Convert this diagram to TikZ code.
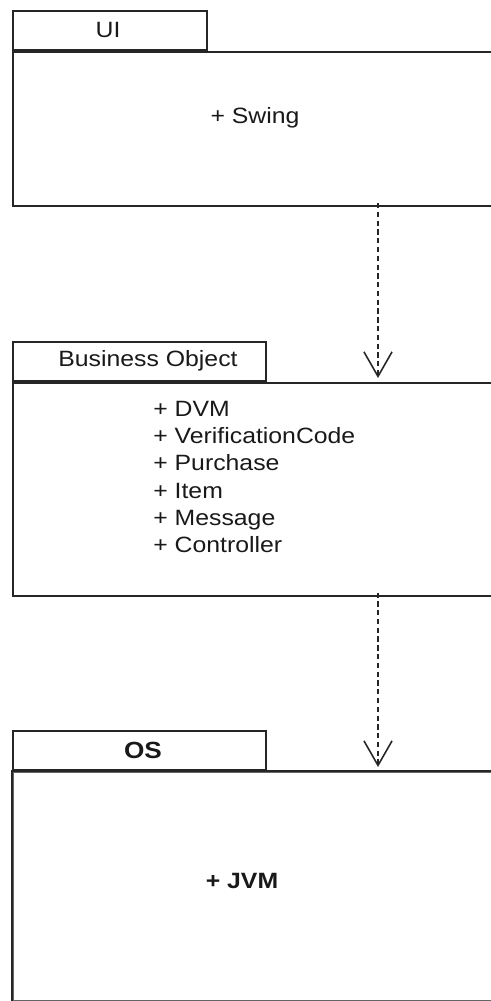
\documentclass[tikz,border=0pt]{standalone}
\usepackage{fontspec}
\setmainfont{Liberation Sans}[FakeStretch=1.12]
\usetikzlibrary{arrows.meta}

\begin{document}
\begin{tikzpicture}
      \tikzstyle{tabnode} = [draw=black!85, line width=1pt, rectangle, inner sep=0pt, anchor=north west, minimum height=0.78cm]
      \tikzstyle{bodynode} = [draw=black!85, line width=1pt, rectangle, inner sep=0pt, anchor=north west, minimum width=10.5cm]
      \tikzstyle{tnode} = [inner sep=0pt, text=black!90, font=\fontsize{12.6}{15.4}\selectfont, align=left]
      \tikzstyle{dep} = [draw=black!85, line width=0.9pt, dash pattern=on 3pt off 2pt, -{Straight Barb[length=14pt,width=16pt]}]

      \useasboundingbox (0,0) rectangle (9.8,-20.02);

      %%%%%%%%%%%%%%%%%%%%%%%%%%%%%%
      %% UI package
      %%%%%%%%%%%%%%%%%%%%%%%%%%%%%%
      \node[tabnode, minimum width=3.88cm] (uitab) at (0.24,-0.2) {};
      \node[tnode] (uiname) at (2.16,-0.6) {UI};
      \node[bodynode, minimum height=3.08cm] (uibody) at (uitab.south west) {};
      \node[tnode] (swing) at (5.1,-2.36) {+ Swing};

      %%%%%%%%%%%%%%%%%%%%%%%%%%%%%%
      %% Business Object package
      %%%%%%%%%%%%%%%%%%%%%%%%%%%%%%
      \node[tabnode, minimum width=5.06cm] (botab) at (0.24,-6.82) {};
      \node[tnode] (boname) at (2.96,-7.22) {Business Object};
      \node[bodynode, minimum height=4.27cm] (bobody) at (botab.south west) {};
      \node[tnode, anchor=west] (bolist) at (3.06,-9.54) {+ DVM\\+ VerificationCode\\+ Purchase\\+ Item\\+ Message\\+ Controller};

      %%%%%%%%%%%%%%%%%%%%%%%%%%%%%%
      %% OS package
      %%%%%%%%%%%%%%%%%%%%%%%%%%%%%%
      \node[tabnode, minimum width=5.06cm] (ostab) at (0.24,-14.6) {};
      \node[tnode, font=\bfseries\fontsize{13.3}{16}\selectfont] (osname) at (2.86,-15.0) {OS};
      \node[bodynode, draw=black!60, minimum height=4.58cm] (osbody) at (ostab.south west) {};
      \draw[black!85, line width=1pt] (osbody.south west) -- (osbody.north west) -- (osbody.north east);
      \node[tnode, font=\bfseries\fontsize{12.6}{15}\selectfont] (jvm) at (4.84,-17.62) {+ JVM};

      % dependencies
      \coordinate (uiport) at (7.56,-4.06);
      \coordinate (boin) at (7.56,-7.56);
      \coordinate (boport) at (7.56,-11.85);
      \coordinate (osin) at (7.56,-15.34);

      \draw[dep] (uiport) -- (boin);
      \draw[dep] (boport) -- (osin);

    \end{tikzpicture}
\end{document}
